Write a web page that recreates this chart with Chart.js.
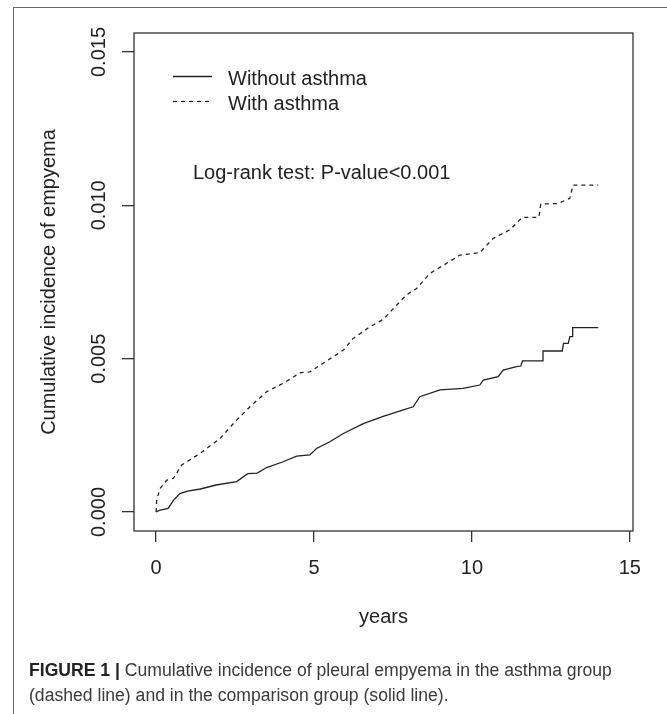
<!DOCTYPE html>
<html>
<head>
<meta charset="utf-8">
<script src="https://cdn.jsdelivr.net/npm/chart.js@4.4.1/dist/chart.umd.min.js"></script>
<style>
  html, body { margin: 0; padding: 0; background: #fff; }
  body { width: 667px; height: 714px; position: relative; overflow: hidden; font-family: "Liberation Sans", Arial, sans-serif; }
  #frame { position: absolute; left: 13px; top: 7px; width: 660px; height: 720px; border-top: 1.5px solid #666; border-left: 1.5px solid #666; }
  #plot { position: absolute; left: 0; top: 0; }
  .cap { position: absolute; left: 29px; font-size: 17.6px; color: #3a3a3a; white-space: nowrap; }
  .cap b { color: #222; }
</style>
</head>
<body>
<div id="frame"></div>
<canvas id="plot" width="667" height="714"></canvas>
<div class="cap" style="top:660px"><b>FIGURE 1 |</b> Cumulative incidence of pleural empyema in the asthma group</div>
<div class="cap" style="top:685px">(dashed line) and in the comparison group (solid line).</div>
<script>
// values (years, cumulative incidence)
const withoutYears = [0, 0.1, 0.38, 0.55, 0.75, 1.0, 1.4, 1.9, 2.55, 2.9, 3.2, 3.5, 4.0, 4.45, 4.87, 5.08, 5.5, 5.93, 6.56, 7.19, 7.83, 8.14, 8.35, 8.99, 9.72, 10.25, 10.36, 10.83, 10.99, 11.41, 11.55, 11.6, 12.22, 12.25, 12.86, 12.9, 13.05, 13.1, 13.17, 13.19, 14.0];
const withoutInc = [0, 0.00005, 0.00012, 0.00038, 0.0006, 0.00068, 0.00075, 0.00088, 0.00099, 0.00125, 0.00127, 0.00145, 0.00163, 0.00182, 0.00186, 0.00207, 0.00229, 0.00256, 0.00288, 0.00312, 0.00333, 0.00343, 0.00376, 0.00398, 0.00403, 0.00414, 0.0043, 0.00441, 0.00463, 0.00474, 0.00476, 0.00493, 0.00493, 0.00525, 0.00525, 0.0055, 0.0055, 0.00572, 0.00572, 0.00601, 0.00601];

const withYears = [0, 0.02, 0.13, 0.34, 0.55, 0.81, 1.39, 2.03, 2.45, 2.97, 3.5, 4.03, 4.56, 4.87, 5.29, 5.93, 6.24, 6.77, 7.19, 7.62, 7.93, 8.25, 8.67, 9.2, 9.62, 10.25, 10.67, 11.2, 11.6, 12.12, 12.18, 12.73, 13.1, 13.2, 14.0];
const withInc = [0, 0.0004, 0.00077, 0.00104, 0.0011, 0.00153, 0.00191, 0.0024, 0.00289, 0.00343, 0.00392, 0.0042, 0.00454, 0.00457, 0.00485, 0.00528, 0.00566, 0.00604, 0.00628, 0.00675, 0.00708, 0.00729, 0.00778, 0.00811, 0.00838, 0.00846, 0.00892, 0.0092, 0.00961, 0.00961, 0.01004, 0.01006, 0.01023, 0.01066, 0.01066];

const xTicks = [0, 5, 10, 15];
const yTicks = [0, 0.005, 0.010, 0.015];
const seriesLabels = ['Without asthma', 'With asthma'];
const testNote = 'Log-rank test: P-value<0.001';

const FONT = '"Liberation Sans", Arial, sans-serif';
const INK = '#222';

const toXY = (xs, ys) => xs.map((x, i) => ({ x, y: ys[i] }));

// box around the plot region, R style
const boxPlugin = {
  id: 'box',
  afterDraw(chart) {
    const { ctx, chartArea: a } = chart;
    ctx.save();
    ctx.strokeStyle = '#333';
    ctx.lineWidth = 1.3;
    ctx.strokeRect(a.left, a.top, a.right - a.left, a.bottom - a.top);
    ctx.restore();
  }
};

// y tick labels rotated like R's default las=0
const yLabelPlugin = {
  id: 'yLabels',
  afterDraw(chart) {
    const { ctx } = chart;
    const ys = chart.scales.y;
    ctx.save();
    ctx.fillStyle = INK;
    ctx.font = '20px ' + FONT;
    ctx.textAlign = 'center';
    ctx.textBaseline = 'middle';
    yTicks.forEach(v => {
      ctx.save();
      ctx.translate(98, ys.getPixelForValue(v));
      ctx.rotate(-Math.PI / 2);
      ctx.fillText(v.toFixed(3), 0, 1);
      ctx.restore();
    });
    ctx.restore();
  }
};

// legend + log-rank note inside the plot
const notePlugin = {
  id: 'notes',
  afterDraw(chart) {
    const { ctx } = chart;
    ctx.save();
    ctx.font = '20px ' + FONT;
    ctx.fillStyle = INK;
    ctx.textBaseline = 'alphabetic';
    const rows = [76.5, 101.5];
    chart.data.datasets.forEach((ds, i) => {
      ctx.strokeStyle = ds.borderColor;
      ctx.lineWidth = ds.borderWidth;
      ctx.setLineDash(ds.borderDash || []);
      ctx.beginPath();
      ctx.moveTo(173, rows[i]);
      ctx.lineTo(212, rows[i]);
      ctx.stroke();
      ctx.fillText(ds.label, 228, rows[i] + 8);
    });
    ctx.setLineDash([]);
    ctx.fillText(testNote, 193, 179);
    ctx.restore();
  }
};

new Chart(document.getElementById('plot'), {
  type: 'line',
  data: {
    datasets: [
      { label: seriesLabels[0], data: toXY(withoutYears, withoutInc), borderColor: INK, borderWidth: 1.3, pointRadius: 0, tension: 0, fill: false },
      { label: seriesLabels[1], data: toXY(withYears, withInc), borderColor: INK, borderWidth: 1.3, borderDash: [4, 4], pointRadius: 0, tension: 0, fill: false }
    ]
  },
  options: {
    responsive: false,
    animation: false,
    events: [],
    layout: { padding: { left: 14, top: 33, right: 34, bottom: 81 } },
    plugins: { legend: { display: false }, tooltip: { enabled: false } },
    scales: {
      x: {
        type: 'linear', min: -0.7, max: 15.1,
        afterBuildTicks: s => { s.ticks = xTicks.map(v => ({ value: v })); },
        grid: { display: true, drawOnChartArea: false, drawTicks: true, tickLength: 11, color: '#333', lineWidth: 1.3 },
        border: { display: false },
        ticks: { color: INK, font: { family: FONT, size: 20 }, padding: 14, maxRotation: 0, callback: v => String(v) },
        title: { display: true, text: 'years', color: INK, font: { family: FONT, size: 20 }, padding: { top: 11, bottom: 4 } }
      },
      y: {
        type: 'linear', min: -0.00062, max: 0.01562,
        afterBuildTicks: s => { s.ticks = yTicks.map(v => ({ value: v })); },
        grid: { display: true, drawOnChartArea: false, drawTicks: true, tickLength: 12, color: '#333', lineWidth: 1.3 },
        border: { display: false },
        ticks: { display: false },
        title: { display: true, text: 'Cumulative incidence of empyema', color: INK, font: { family: FONT, size: 20 }, padding: { top: 23, bottom: 61 } }
      }
    }
  },
  plugins: [boxPlugin, yLabelPlugin, notePlugin]
});
</script>
</body>
</html>
